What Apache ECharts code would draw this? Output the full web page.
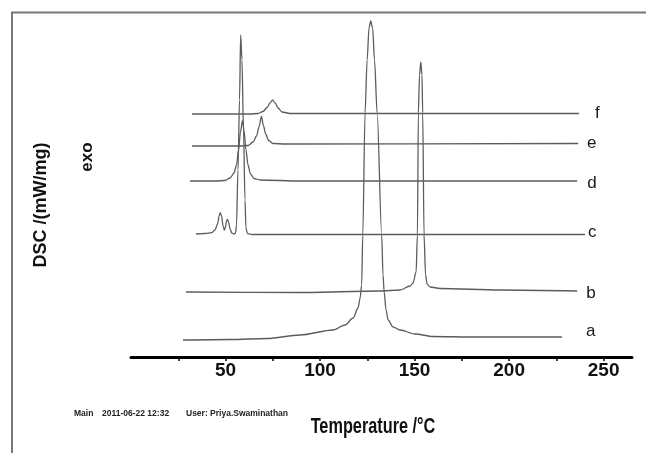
<!DOCTYPE html>
<html>
<head>
<meta charset="utf-8">
<script src="https://cdn.jsdelivr.net/npm/echarts@6/dist/echarts.min.js"></script>
<style>
html,body{margin:0;padding:0;background:#fff;}
#chart{width:646px;height:453px;}
</style>
</head>
<body>
<div id="chart"></div>
<script>
// Temperature (°C) and DSC signal (arbitrary offset units) for each curve
const curveNames = ['a', 'b', 'c', 'd', 'e', 'f'];

const tempA = [27.5, 52.4, 72.0, 89.4, 106.9, 113.2, 117.5, 120.1, 121.2, 122.0, 122.6, 123.8, 124.9, 125.9, 126.8, 127.8, 128.8, 130.2, 132.6, 133.3, 133.9, 134.9, 136.0, 138.6, 142.3, 150.3, 159.8, 179.4, 228.0];
const dscA  = [17, 17.5, 18.5, 22, 27, 32, 39, 49, 59, 72, 122, 244, 297, 329, 336, 329, 297, 244, 122, 82, 65, 47, 37, 30, 27, 23, 20.5, 20, 20];

const tempB = [29.1, 89.4, 131.7, 142.3, 147.6, 149.2, 150.8, 151.5, 152.0, 152.6, 153.3, 153.9, 154.3, 155.0, 155.8, 156.6, 158.2, 163.5, 195.2, 236.0];
const dscB  = [65, 64.5, 66, 67, 71, 74, 85, 122, 244, 282, 295, 282, 244, 122, 82, 73, 70, 68.5, 67, 66];

const tempC = [34.4, 39.2, 42.7, 44.4, 45.8, 46.6, 47.2, 47.9, 48.7, 49.4, 50.0, 50.5, 51.1, 51.6, 52.4, 53.3, 54.5, 55.3, 55.8, 56.6, 57.4, 58.0, 58.7, 59.5, 60.3, 60.8, 61.6, 64.0, 89.4, 240.2];
const dscC  = [123, 123.5, 124.3, 127, 133, 141, 144.3, 141, 131, 127, 130, 136, 137.7, 135, 128, 124, 123, 124, 132, 187, 257, 322, 297, 227, 157, 129, 123.5, 122.5, 122.5, 122.5];

const tempD = [31.2, 44.4, 49.7, 52.4, 54.5, 55.8, 56.9, 57.9, 59.0, 59.9, 60.8, 61.9, 63.2, 65.1, 68.3, 89.4, 236.0];
const dscD  = [176, 176, 176.5, 179, 184, 192, 207, 225, 236.5, 225, 207, 192, 183, 178.5, 177, 176, 176];

const tempE = [32.3, 57.7, 61.9, 64.6, 66.4, 67.7, 69.0, 70.1, 71.2, 72.8, 75.1, 81.5, 236.5];
const dscE  = [211, 211, 211.5, 215, 221, 230, 240.5, 231, 223, 216.5, 213.5, 213, 213.5];

const tempF = [32.3, 63.0, 67.2, 69.8, 72.0, 73.5, 74.9, 76.2, 77.8, 79.9, 84.1, 237.0];
const dscF  = [243, 243, 243.5, 245.5, 249.5, 254, 257, 254, 249, 245, 243.5, 243.5];

const xTickLabels = [50, 100, 150, 200, 250];

const temps = [tempA, tempB, tempC, tempD, tempE, tempF];
const dscs = [dscA, dscB, dscC, dscD, dscE, dscF];
const labelDistance = [24, 9, 3, 10, 9, 16];
const labelOffset = [[0, -6], [0, 2], [0, -2], [0, 2], [0, 0], [0, 0]];

const chart = echarts.init(document.getElementById('chart'), null, {renderer: 'canvas'});

const series = curveNames.map((name, i) => ({
  name: name,
  type: 'line',
  data: temps[i].map((t, j) => [t, dscs[i][j]]),
  showSymbol: false,
  symbol: 'none',
  smooth: 0.3,
  smoothMonotone: 'x',
  lineStyle: {color: '#5c5c5c', width: 1.3},
  endLabel: {
    show: true,
    formatter: name,
    distance: labelDistance[i],
    offset: labelOffset[i],
    fontFamily: 'Liberation Sans, Arial, sans-serif',
    fontSize: 17,
    color: '#1a1a1a'
  },
  emphasis: {disabled: true},
  silent: true
}));

chart.setOption({
  animation: false,
  backgroundColor: '#ffffff',
  grid: {left: 131, right: 14, top: 12, bottom: 96, containLabel: false},
  xAxis: {
    type: 'value',
    min: 0,
    max: 265,
    interval: 25,
    axisLine: {show: true, lineStyle: {color: '#000', width: 3}},
    axisTick: {show: true, length: 4, lineStyle: {color: '#000', width: 1.5}},
    splitLine: {show: false},
    axisLabel: {
      margin: 4,
      fontFamily: 'Liberation Sans, Arial, sans-serif',
      fontSize: 19,
      fontWeight: 'bold',
      color: '#111',
      showMinLabel: false,
      showMaxLabel: false,
      formatter: v => (xTickLabels.indexOf(v) >= 0 ? String(v) : '')
    }
  },
  yAxis: {
    type: 'value',
    min: 0,
    max: 345,
    show: false
  },
  graphic: [
    {type: 'line', shape: {x1: 11, y1: 12.5, x2: 646, y2: 12.5}, style: {stroke: '#777', lineWidth: 2}, silent: true},
    {type: 'line', shape: {x1: 12, y1: 12, x2: 12, y2: 453}, style: {stroke: '#777', lineWidth: 2}, silent: true},
    {type: 'text', x: 41, y: 205, rotation: Math.PI / 2,
      style: {text: 'DSC /(mW/mg)', font: 'bold 18px "Liberation Sans", Arial, sans-serif', fill: '#111', textAlign: 'center', textVerticalAlign: 'middle'}, silent: true},
    {type: 'text', x: 87, y: 157, rotation: Math.PI / 2,
      style: {text: 'exo', font: 'bold 17px "Liberation Sans", Arial, sans-serif', fill: '#111', textAlign: 'center', textVerticalAlign: 'middle'}, silent: true},
    {type: 'text', x: 373, y: 427, scaleX: 0.74,
      style: {text: 'Temperature /°C', font: 'bold 22px "Liberation Sans", Arial, sans-serif', fill: '#111', textAlign: 'center', textVerticalAlign: 'middle'}, silent: true},
    {type: 'text', x: 74, y: 414,
      style: {text: 'Main', font: 'bold 8.5px "Liberation Sans", Arial, sans-serif', fill: '#222', textAlign: 'left', textVerticalAlign: 'middle'}, silent: true},
    {type: 'text', x: 102, y: 414,
      style: {text: '2011-06-22 12:32', font: 'bold 8.5px "Liberation Sans", Arial, sans-serif', fill: '#222', textAlign: 'left', textVerticalAlign: 'middle'}, silent: true},
    {type: 'text', x: 186, y: 414,
      style: {text: 'User: Priya.Swaminathan', font: 'bold 8.5px "Liberation Sans", Arial, sans-serif', fill: '#222', textAlign: 'left', textVerticalAlign: 'middle'}, silent: true}
  ],
  series: series
});
</script>
</body>
</html>
